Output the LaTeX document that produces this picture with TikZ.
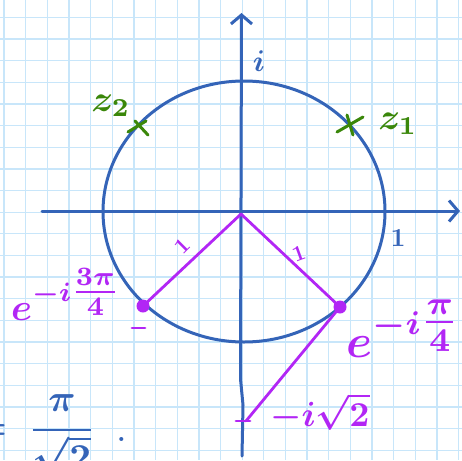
\documentclass[tikz,border=0pt]{standalone}
\usepackage{amsmath}
\usetikzlibrary{arrows.meta}
\definecolor{pblue}{RGB}{52,100,184}
\definecolor{ppurple}{RGB}{178,38,245}
\definecolor{pgreen}{RGB}{58,135,10}
\definecolor{pgrid}{RGB}{200,230,250}
\begin{document}
\begin{tikzpicture}[x=1pt,y=-1pt,
  gridline/.style={pgrid, line width=1.3pt},
  bluepen/.style={pblue, line width=3pt, line cap=round, line join=round},
  purplepen/.style={ppurple, line width=2.8pt, line cap=round, line join=round},
  greenpen/.style={pgreen, line width=3pt, line cap=round},
  tipped/.style={-{Straight Barb[length=9pt,width=21pt]}},
  lbl/.style={inner sep=0pt, outer sep=0pt, font=\normalsize\boldmath},
  sz/.style={scale=#1, transform shape},
  dotmark/.style={ppurple, fill=ppurple}
]
\fill[white] (0,0) rectangle (462,460);
\useasboundingbox (0,0) rectangle (462,460);
\begin{scope}
\clip (0,0) rectangle (462,460);
% grid
\foreach \k in {0,...,21} {\draw[gridline] ({4+21.65*\k},0) -- ({4+21.65*\k},460);}
\foreach \k in {0,...,22} {\draw[gridline] (0,{-4.35+21.65*\k}) -- (462,{-4.35+21.65*\k});}

% axes
\coordinate (xs) at (42,211);
\coordinate (xe) at (460,211);
\coordinate (ys) at (242,456);
\coordinate (yk1) at (243,405);
\coordinate (yk2) at (240.5,379);
\coordinate (ye) at (241.5,13);
\draw[bluepen, tipped] (xs) -- (xe);
\draw[bluepen] (ys) -- (yk1) -- (yk2);
\draw[bluepen, tipped] (yk2) -- (ye);

% circle
\draw[bluepen] (244,211.5) ellipse [x radius=141pt, y radius=130.5pt];

\node[lbl, pblue, sz=3] (ilab) at (259,61) {$i$};
\node[lbl, pblue, sz=2.6] (onelab) at (398,238) {$1$};

% green marks
\draw[greenpen] (128,132) -- (146,121) (135,121) -- (148,135);
\draw[greenpen] (337,132) -- (363,117) (347,115) -- (353,135);
\node[lbl, pgreen, sz=3.7] (z2) at (111,106) {$z_2$};
\node[lbl, pgreen, sz=3.7] (z1) at (398,124) {$z_1$};

% purple construction
\coordinate (O) at (241,214);
\coordinate (A) at (143,306);
\coordinate (B) at (340,307);
\coordinate (C) at (246,421);
\coordinate (Cl) at (236,421);
\coordinate (Cr) at (250,421);
\coordinate (Dl) at (132,328);
\coordinate (Dr) at (145,328);
\draw[purplepen] (A) -- (O) -- (B) -- (C);
\draw[purplepen] (Cl) -- (Cr);
\draw[purplepen] (Dl) -- (Dr);
\fill[dotmark] (A) circle (6.5pt);
\fill[dotmark] (B) circle (6.5pt);

\node[lbl, ppurple, rotate=45, sz=2.2] (oneL) at (182,246) {$1$};
\node[lbl, ppurple, rotate=20, sz=2.2] (oneR) at (299,254) {$1$};
\node[lbl, ppurple, sz=3.5] (sq) at (320,412) {$-i\sqrt{2}$};
\node[lbl, ppurple, anchor=base west, sz=4.7] (eR) at (346,357) {$e^{-i\tfrac{\pi}{4}}$};
\node[lbl, ppurple, anchor=base west, sz=3.8] (eL) at (11,320) {$e^{-i\tfrac{3\pi}{4}}$};

% bottom-left formula
\node[lbl, pblue, anchor=base east, sz=3.8] (eq) at (7,439.5) {$=$};
\node[lbl, pblue, anchor=base, sz=3.8] (frac) at (62,439.5) {$\dfrac{\pi}{\sqrt{2}}$};
\node[lbl, pblue, anchor=base, sz=3.8] (dotp) at (122,441) {.};
\end{scope}
\end{tikzpicture}
\end{document}
